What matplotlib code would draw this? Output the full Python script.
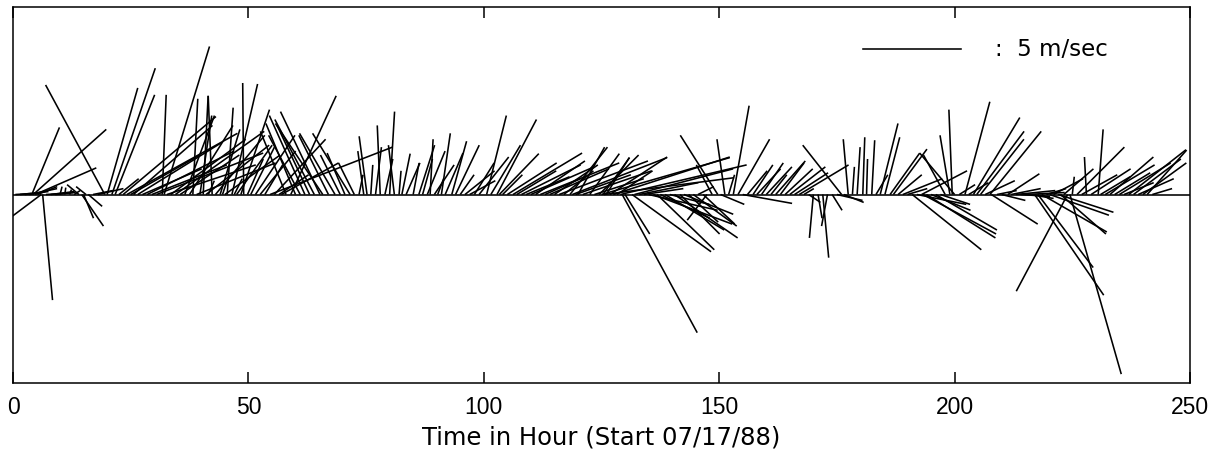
import numpy as np
import matplotlib.pyplot as plt
from matplotlib.collections import LineCollection

plt.rcParams['font.family'] = ['Liberation Sans', 'DejaVu Sans']

# hourly wind record: start time of each stick (h), east and north components (m/s)
hours = [
    # 0 - 18 h
    0.5, 1.5, 2.5, 3.5, 4.0, 4.3, 4.7, 5.2, 6.0, 6.3, 7.0, 8.0, 9.0, 10.0, 11.0, 12.0,
    13.0, 14.0, 14.6, 15.0, 15.5, 16.0, 17.0, 18.0,
    # 19 - 33 h
    19.5, 20.0, 21.0, 21.7, 22.5, 23.4, 24.2, 25.0, 25.6, 26.5, 27.5, 28.5, 29.5, 30.5,
    31.7, 32.1, 32.7,
    # 33 - 50 h
    33.5, 34.5, 35.5, 36.5, 37.5, 38.2, 39.0, 39.7, 40.4, 41.0, 41.5, 42.3, 43.0, 44.0,
    44.5, 45.0, 45.5, 46.5, 47.0, 47.5, 48.4, 49.0, 49.8,
    # 50 - 73 h
    50.5, 51.5, 52.5, 53.5, 54.6, 55.5, 56.5, 57.0, 58.0, 59.0, 60.0, 61.0, 62.0, 63.0,
    64.0, 65.2, 65.8, 67.0, 68.4, 69.5, 70.5, 71.6, 72.5,
    # 73 - 100 h
    73.5, 74.5, 75.2, 76.0, 77.0, 78.0, 79.0, 80.0, 81.0, 82.0, 82.6, 83.5, 85.0, 86.2,
    87.0, 88.0, 88.6, 89.5, 90.2, 91.0, 91.8, 93.2, 94.0, 95.0, 96.0, 97.0, 98.0, 99.0,
    # 100 - 129 h
    100.6, 101.5, 102.8, 103.3, 104.0, 105.0, 106.2, 107.0, 108.0, 109.0, 110.0, 111.0,
    112.0, 113.0, 114.0, 115.0, 116.0, 117.0, 118.3, 118.8, 119.5, 120.0, 121.0, 122.5,
    123.5, 124.5, 125.0, 125.3, 125.5, 126.0, 126.8, 127.5, 128.3, 129.0,
    # 129 - 155 h
    129.4, 130.0, 131.5, 132.0, 133.0, 134.0, 135.0, 136.0, 136.8, 137.5, 138.5, 139.5,
    140.5, 141.7, 142.5, 143.5, 144.5, 145.5, 146.6, 147.4, 148.5, 149.7, 150.3, 151.2,
    152.0, 153.0, 154.0, 155.0,
    # 156 - 190 h
    156.0, 157.2, 158.0, 159.0, 160.0, 161.0, 162.0, 163.0, 164.0, 165.0, 166.0, 167.0,
    168.0, 169.0, 170.0, 171.0, 172.0, 173.0, 174.0, 175.0, 176.0, 176.5, 177.4, 178.3,
    179.3, 180.5, 181.3, 182.4, 183.3, 184.2, 185.2, 186.3, 187.0, 188.0, 189.0, 190.0,
    # 191 - 242 h
    191.0, 192.0, 193.0, 193.3, 194.0, 195.0, 196.0, 197.0, 198.0, 199.0, 199.5, 200.0,
    201.0, 202.2, 203.0, 204.0, 204.7, 205.5, 206.5, 207.5, 207.8, 209.0, 210.0, 211.3,
    212.0, 213.0, 214.0, 215.0, 216.0, 217.0, 217.7, 218.5, 219.5, 220.2, 221.0, 222.0,
    222.5, 223.2, 224.0, 224.5, 225.0, 226.0, 227.0, 228.0, 229.0, 230.5, 231.0, 232.0,
    233.0, 234.0, 235.0, 236.0, 237.0, 238.0, 239.0, 240.0, 240.9, 242.0,
]

u_east = [
    0.8, 1.0, 1.2, 1.4, 1.4, 3.7, 3.1, 1.0, -1.6, 0.5, 1.5, 1.2, 0.9, 0.1, 0.05, 0.1,
    0.3, -0.6, 1.1, 0.5, -0.5, 0.7, 1.0, 1.3,
    -3.0, 1.55, 2.2, 2.0, 1.0, 4.7, 5.6, 3.5, 4.0, 4.2, 3.0, 4.4, 3.8, 5.4,
    0.2, 2.3, 4.5,
    3.8, 4.5, 3.0, 1.5, 2.2, 0.25, 4.0, 0.6, 0.25, 3.2, 0.3, -0.2, 2.5, 1.0,
    0.2, 2.8, 0.3, 1.3, 0.4, 1.8, 1.45, -0.05, 0.8,
    1.2, 2.0, 1.8, 0.9, 6.2, 2.6, 1.5, 2.9, -1.3, 2.3, -1.5, -1.6, -1.8, -1.65,
    -2.0, -2.0, -2.4, -1.5, -1.8, -1.0, -0.9, -1.9, -0.8,
    0.2, -0.3, -0.4, 0.1, 0.3, -0.15, 0.4, 0.25, -0.3, 0.1, 0.42, 0.7, 0.3, 0.8,
    0.5, 0.9, 0.15, 1.0, 0.3, 0.45, 0.9, 0.75, 1.2, 0.7, 1.5, 1.3, 1.0, 1.5,
    1.0, 1.5, 2.0, 2.0, 1.0, 2.5, 3.5, 2.0, 3.0, 2.2, 3.2, 2.5,
    4.0, 1.8, 3.0, 2.2, 4.5, 1.5, 1.9, 4.8, 2.8, 1.35, 3.5, 1.5,
    2.5, 2.0, 6.5, 1.35, 6.6, 1.17, 2.9, 5.9, 1.8, 6.4,
    3.8, 1.25, 4.0, 5.0, 3.0, 2.0, 3.5, 4.0, 2.9, 2.5, 3.0, 2.0,
    3.2, 2.0, 2.5, 1.5, 2.2, 0.8, 1.6, -1.0, -0.8, -1.9, 1.2, -0.4,
    0.3, 0.8, 1.6, 2.5,
    1.0, 1.0, 1.2, 1.1, 1.3, 0.8, 1.5, 1.2, 1.4, 1.8, 1.7, 2.5,
    0.5, 0.6, -0.2, 0.2, 0.3, -0.3, 0.5, 1.3, -1.97, 1.0, -0.25, 0.1,
    0.15, 0.1, 0.05, 0.15, 0.6, 0.9, 0.75, 1.5, 1.7, 1.2, 2.0, 1.0,
    3.5, 2.5, 2.3, 3.7, 3.5, 2.0, 3.1, 1.5, -1.1, -0.5, -0.17, -1.77,
    0.8, 1.26, 1.0, 2.35, 2.4, 2.2, 1.5, 2.6, 2.35, 1.0, 1.2, 1.6,
    1.5, 2.0, 1.5, 2.0, 1.2, 3.5, 2.8, 3.3, 1.0, 3.0, 1.5, 2.8,
    2.3, 1.5, -2.6, 2.6, 0.1, 2.4, 1.8, -0.1, 2.0, 0.25, 1.5, 2.5,
    2.2, 1.8, 2.6, 1.5, 2.9, 2.4, 1.8, 2.2, 2.0, 1.0,
]

v_north = [
    0.05, 0.1, 0.15, 0.3, 3.4, 3.3, 1.35, 0.4, -1.2, -5.35, 0.1, 0.15, 0.1, 0.4, 0.35, 0.25,
    0.2, 0.5, -1.6, -1.2, 0.4, -0.6, 0.2, 0.3,
    5.55, 5.4, 6.4, 5.05, 0.8, 3.95, 3.1, 2.0, 3.5, 2.6, 1.3, 2.2, 1.5, 2.1,
    5.05, 7.5, 1.5,
    2.8, 3.2, 2.0, 4.0, 3.5, 4.85, 1.6, 4.0, 5.0, 2.5, 0.7, 5.0, 3.0, 3.3,
    0.6, 2.0, 4.4, 5.6, 0.8, 2.5, 4.3, 5.65, 1.8,
    2.4, 3.0, 2.2, 1.5, 2.4, 2.8, 1.0, 1.6, 3.2, 5.0, 3.6, 3.0, 4.0, 3.5,
    3.8, 4.2, 3.6, 3.0, 3.1, 2.0, 2.1, 3.1, 1.6,
    1.0, 2.2, 2.95, 1.5, 2.4, 3.5, 1.8, 4.2, 2.5, 1.2, 2.07, 1.6, 1.6, 2.5,
    1.8, 2.2, 2.8, 1.5, 0.8, 3.1, 2.1, 2.7, 2.5, 1.0, 1.2, 0.7, 1.6, 1.9,
    4.0, 2.5, 3.8, 2.07, 1.0, 1.6, 2.1, 1.2, 1.5, 0.9, 1.4, 1.7,
    1.6, 0.8, 1.3, 1.5, 1.7, 1.2, 2.4, 1.87, 1.0, 2.4, 1.2, 2.07,
    0.8, 2.0, 1.87, 1.87, 0.85, 1.87, 1.9, 1.9, 1.2, 1.5,
    -7.0, -2.0, -2.9, 1.3, 0.6, 0.3, -0.8, -1.5, -2.8, -1.2, -1.8, -0.5,
    -2.2, -2.0, -1.0, -1.4, -1.6, 0.4, -1.5, -1.3, 1.5, 3.0, -0.5, 2.8,
    1.0, 4.5, 2.8, -0.45,
    1.2, 1.5, 1.3, 1.6, 1.4, 1.0, 1.7, 1.6, 1.3, 1.4, 1.1, 1.5,
    0.3, -0.4, -2.2, -1.2, -3.2, -1.6, -0.8, -0.3, 2.5, -0.4, 2.8, 1.4,
    2.4, 2.9, 1.8, 2.75, 1.0, 3.6, 2.9, 2.1, 2.3, 1.0, 0.8, 0.3,
    -2.8, -0.5, 1.2, -2.0, -2.2, -0.8, -1.8, -0.5, 2.0, 3.0, 4.3, 2.1,
    0.5, 4.7, 0.6, 3.9, 3.2, 2.8, 0.7, 3.2, -1.5, 0.2, -0.3, 1.05,
    0.3, 0.2, -0.1, 0.1, -0.2, -5.1, -3.7, -1.9, 0.3, -1.05, 0.8, -0.9,
    -2.0, 1.3, -4.9, -9.1, 0.9, 2.4, 1.0, 1.9, 1.3, 3.3, 0.9, 1.5,
    1.9, 1.1, 1.6, 0.6, 2.27, 1.8, 0.8, 1.6, 2.25, 0.3,
]

ref_speed = 5.0          # length of the key arrow, m/s
t_max = 250
v_lim = (-9.55, 9.5)

W, H = 1223, 453
fig = plt.figure(figsize=(W / 100, H / 100), dpi=100)
ax = fig.add_axes([13 / W, 1 - 383 / H, 1177 / W, 376 / H])

# hours of x-axis per 1 m/s, so that sticks are drawn with true direction
px_per_hour = 1177 / t_max
px_per_ms = 376 / (v_lim[1] - v_lim[0])
k = px_per_ms / px_per_hour

t = np.array(hours)
u = np.array(u_east)
v = np.array(v_north)
segs = [[(ti, 0.0), (ti + ui * k, vi)] for ti, ui, vi in zip(t, u, v)]
ax.add_collection(LineCollection(segs, colors='k', linewidths=1.15))
ax.axhline(0, color='k', lw=1.15)

# key
x0, y0 = 180.5, 7.37
ax.plot([x0, x0 + ref_speed * k], [y0, y0], color='k', lw=1.15)
ax.text(208.5, y0, ':  5 m/sec', fontsize=16.5, va='center', ha='left',
        family='DejaVu Sans')

ax.set_xlim(0, t_max)
ax.set_ylim(*v_lim)
ax.set_yticks([])
ax.set_xticks(np.arange(0, t_max + 1, 50))
ax.tick_params(axis='x', direction='in', top=True, length=8, width=1.1,
               labelsize=16.5, pad=9)
for s in ax.spines.values():
    s.set_linewidth(1.1)
ax.set_xlabel('Time in Hour (Start 07/17/88)', fontsize=17.5, labelpad=5,
              family='DejaVu Sans')

fig.savefig('out.png', dpi=100)
